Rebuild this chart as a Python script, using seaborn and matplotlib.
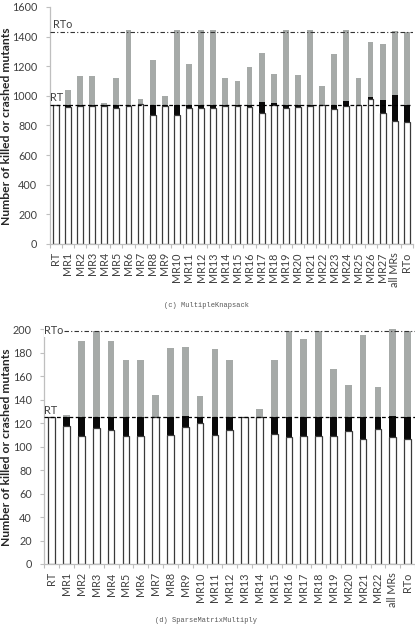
import matplotlib
matplotlib.use("Agg")
import matplotlib.pyplot as plt
import seaborn as sns

# (c) MultipleKnapsack
kn_labels = ["RT", "MR1", "MR2", "MR3", "MR4", "MR5", "MR6", "MR7", "MR8", "MR9",
             "MR10", "MR11", "MR12", "MR13", "MR14", "MR15", "MR16", "MR17", "MR18",
             "MR19", "MR20", "MR21", "MR22", "MR23", "MR24", "MR25", "MR26", "MR27",
             "all MRs", "RTo"]
kn_white = [935, 925, 928, 928, 932, 915, 928, 944, 873, 930, 868, 918, 915, 920, 930,
            928, 924, 884, 935, 918, 924, 930, 935, 913, 932, 935, 980, 882, 833, 823]
kn_black = [935, 935, 935, 935, 935, 935, 935, 944, 935, 935, 935, 935, 935, 935, 935,
            935, 935, 958, 951, 935, 935, 935, 935, 935, 962, 940, 990, 971, 1004, 935]
kn_total = [935, 1038, 1135, 1135, 950, 1122, 1442, 975, 1240, 1000, 1444, 1213, 1444,
            1444, 1122, 1100, 1195, 1286, 1146, 1444, 1142, 1444, 1067, 1284, 1444, 1122,
            1366, 1348, 1440, 1428]
kn_rt = 935
kn_rto = 1430

# (d) SparseMatrixMultiply
sp_labels = ["RT", "MR1", "MR2", "MR3", "MR4", "MR5", "MR6", "MR7", "MR8", "MR9",
             "MR10", "MR11", "MR12", "MR13", "MR14", "MR15", "MR16", "MR17", "MR18",
             "MR19", "MR20", "MR21", "MR22", "all MRs", "RTo"]
sp_white = [125, 118, 109, 116, 114, 109, 109, 125, 110, 117, 120, 110, 114, 125, 125,
            111, 108, 109, 109, 109, 113, 107, 115, 108, 107]
sp_black = [125, 125, 125, 125, 125, 125, 125, 125, 125, 126, 125, 125, 125, 125, 125,
            125, 125, 125, 125, 125, 125, 125, 125, 126, 125]
sp_total = [125, 127, 190, 199, 190, 174, 174, 144, 184, 185, 143, 183, 174, 125, 132,
            174, 199, 192, 199, 166, 153, 195, 151, 200, 199]
sp_rt = 125
sp_rto = 199

sns.set_style("white")
plt.rcParams["font.family"] = ["Lato", "DejaVu Sans"]

fig = plt.figure(figsize=(4.15, 6.27), dpi=100)
ax1 = fig.add_axes([0.120, 0.611, 0.875, 0.378])
ax2 = fig.add_axes([0.107, 0.1005, 0.893, 0.374])

GRAY = "#a6aaa8"
TXT = "#404040"


def draw(ax, labels, white, black, total, rt, rto, ymax, step, width):
    # stacked look: tallest layer first, white part on top
    sns.barplot(x=labels, y=total, color=GRAY, saturation=1, width=width, ax=ax,
                linewidth=0)
    sns.barplot(x=labels, y=black, color="#0a0a0a", saturation=1, width=width, ax=ax,
                linewidth=0)
    sns.barplot(x=labels, y=white, color="white", saturation=1, width=width, ax=ax,
                edgecolor="#3a3a3a", linewidth=0.9)
    n = len(labels)
    ax.set_xlim(-0.5, n - 0.5)
    ax.set_ylim(0, ymax)
    ax.set_yticks(range(0, ymax + 1, step))
    ax.axhline(rt, color="black", lw=0.9, ls=(0, (3, 2)), zorder=5)
    ax.axhline(rto, color="#333333", lw=0.8, ls=(0, (4, 2, 1, 2)), zorder=5)
    for s in ["top", "right"]:
        ax.spines[s].set_visible(False)
    for s in ["left", "bottom"]:
        ax.spines[s].set_color("#bfbfbf")
        ax.spines[s].set_linewidth(0.9)
    ax.set_xticks([i - 0.5 for i in range(n + 1)], minor=True)
    ax.tick_params(axis="x", which="major", length=0, pad=6, labelsize=7.8,
                   labelcolor=TXT, rotation=90)
    ax.tick_params(axis="x", which="minor", length=3, color="#bfbfbf", width=0.8,
                   bottom=True)
    ax.tick_params(axis="y", length=3, color="#bfbfbf", width=0.8, pad=6,
                   labelsize=7.8, labelcolor=TXT, left=True)
    ax.set_xlabel("")
    ax.set_ylabel("")


draw(ax1, kn_labels, kn_white, kn_black, kn_total, kn_rt, kn_rto, 1600, 200, 0.48)
draw(ax2, sp_labels, sp_white, sp_black, sp_total, sp_rt, sp_rto, 200, 20, 0.45)

ax1.text(-0.45, kn_rt + 15, "RT", fontsize=7.8, color=TXT, va="bottom", ha="left")
ax1.text(-0.2, kn_rto + 15, "RTo", fontsize=7.8, color=TXT, va="bottom", ha="left")
ax2.text(-0.55, sp_rt + 1, "RT", fontsize=7.8, color=TXT, va="bottom", ha="left")
ax2.text(-0.5, sp_rto, "RTo", fontsize=7.8, color=TXT, va="center", ha="left",
         zorder=6, bbox=dict(facecolor="white", edgecolor="none", pad=0.5))

fig.text(0.016, 1 - 126 / 627, "Number of killed or crashed mutants", rotation=90,
         ha="center", va="center", fontsize=8.7, fontweight="bold", color="#262626")
fig.text(0.016, 1 - 447 / 627, "Number of killed or crashed mutants", rotation=90,
         ha="center", va="center", fontsize=8.7, fontweight="bold", color="#262626")

fig.text(0.497, 1 - 305 / 627, "(c) MultipleKnapsack", ha="center", va="center",
         fontsize=5, color="#555555", family="Liberation Mono")
fig.text(0.497, 1 - 621 / 627, "(d) SparseMatrixMultiply", ha="center", va="center",
         fontsize=5, color="#555555", family="Liberation Mono")

fig.savefig("out.png", dpi=100)
